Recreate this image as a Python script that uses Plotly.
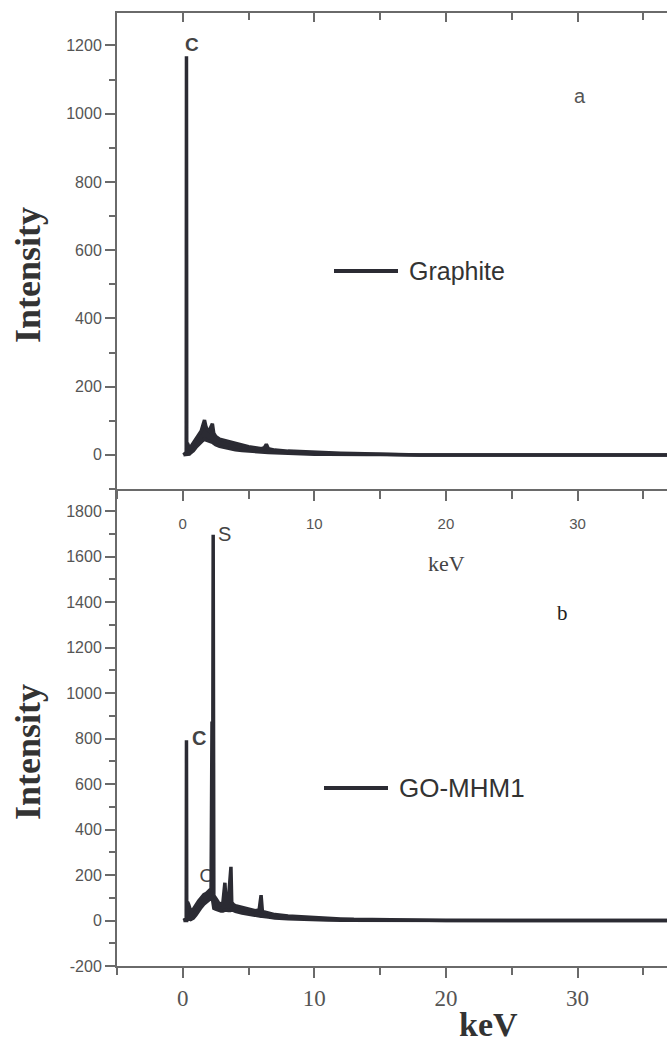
import plotly.graph_objects as go

# ---------------- data ----------------
# each spectrum is given as the upper and lower edge of its noisy trace
graphite_kev = [0.05, 0.2, 0.26, 0.28, 0.30, 0.4, 0.5, 0.6, 0.8, 1.0, 1.2, 1.4, 1.55, 1.65,
                1.75, 1.85, 2.0, 2.15, 2.25, 2.35, 2.5, 2.8, 3.0, 3.5, 4.0, 4.5, 5.0, 5.5, 6.0,
                6.2, 6.35, 6.5, 7.0, 8.0, 9.0, 10.0, 11.0, 12.0, 13.0, 14.0, 15.0, 16.0, 18.0,
                20.0, 36.8]
graphite_upper = [0, 8, 8, 1168, 28, 30, 20, 23, 34, 44, 56, 70, 90, 102,
                  84, 74, 70, 84, 91, 64, 54, 46, 44, 39, 33, 28, 24, 21, 18,
                  21, 31, 18, 14, 11, 9, 7, 6, 5, 4, 3, 2, 1, 0,
                  0, 0]
graphite_lower = [0, 0, 0, 0, 0, 2, 2, 6, 12, 22, 30, 37, 42, 47,
                  44, 42, 40, 38, 37, 34, 30, 25, 23, 19, 15, 13, 11, 9, 8,
                  8, 8, 7, 6, 4, 3, 2, 2, 1, 1, 1, 1, 0, 0,
                  0, 0]

gomhm_kev = [0.05, 0.2, 0.26, 0.28, 0.30, 0.36, 0.45, 0.6, 0.8, 1.0, 1.2, 1.4, 1.6, 1.8,
             2.0, 2.15, 2.22, 2.26, 2.31, 2.36, 2.5, 2.7, 2.9, 3.05, 3.2, 3.3, 3.45, 3.6,
             3.66, 3.72, 3.85, 4.0, 4.5, 5.0, 5.5, 5.8, 5.9, 5.95, 6.05, 6.5, 7.0, 8.0, 9.0,
             10.0, 11.0, 12.0, 13.0, 14.0, 15.0, 16.0, 18.0, 20.0, 36.8]
gomhm_upper = [0, 8, 8, 792, 25, 82, 70, 42, 50, 70, 86, 100, 114, 120,
               130, 140, 875, 130, 1696, 110, 98, 80, 70, 80, 166, 70, 80, 196,
               236, 80, 70, 65, 58, 50, 43, 46, 106, 111, 40, 33, 26, 20, 16,
               12, 9, 7, 5, 4, 2, 1, 0, 0, 0]
gomhm_lower = [0, 0, 0, 0, 0, 30, 8, 4, 10, 24, 44, 58, 72, 82,
               92, 98, 102, 92, 64, 54, 50, 45, 42, 42, 44, 48, 44, 44,
               48, 48, 44, 40, 33, 27, 22, 19, 19, 21, 18, 15, 11, 8, 5,
               3, 2, 1, 1, 0, 0, 0, 0, 0, 0]

x_ticks = [0, 10, 20, 30]
top_y_ticks = [0, 200, 400, 600, 800, 1000, 1200]
bot_y_ticks = [-200, 0, 200, 400, 600, 800, 1000, 1200, 1400, 1600, 1800]

# ---------------- layout helpers ----------------
W, H = 667, 1042
L, R, T, B = 117, 0, 13, 76
PW, PH = W - L - R, H - T - B


def fx(p):
    return (p - L) / PW


def fy(p):
    return (H - B - p) / PH


split = fy(489)
LINE = "#2b2b33"
AX = "#6a6a6a"
TXT = "#444444"

fig = go.Figure()

# label partly hidden behind the spectrum (drawn first)
fig.add_trace(go.Scatter(x=[1.83], y=[189], mode="text", text=["O"],
                         textfont=dict(family="Arial, Liberation Sans", size=19, color=TXT),
                         xaxis="x", yaxis="y", showlegend=False, hoverinfo="skip"))


def band(kev, lower, upper, xa, ya, name):
    fig.add_trace(go.Scatter(x=kev, y=lower, mode="lines", line=dict(color=LINE, width=3.5),
                             xaxis=xa, yaxis=ya, showlegend=False, hoverinfo="skip"))
    fig.add_trace(go.Scatter(x=kev, y=upper, mode="lines", line=dict(color=LINE, width=3.5),
                             fill="tonexty", fillcolor=LINE, xaxis=xa, yaxis=ya,
                             showlegend=False, name=name))


band(graphite_kev, graphite_lower, graphite_upper, "x2", "y2", "Graphite")
band(gomhm_kev, gomhm_lower, gomhm_upper, "x", "y", "GO-MHM1")

# invisible trace so the top mirror axis is drawn
fig.add_trace(go.Scatter(x=[0], y=[0], mode="markers", marker=dict(opacity=0),
                         xaxis="x3", yaxis="y2", showlegend=False, hoverinfo="skip"))

xr = [-5, 36.8]
common_axis = dict(showline=True, linecolor=AX, linewidth=2, showgrid=False, zeroline=False,
                   ticks="outside", ticklen=10, tickwidth=2, tickcolor=AX)
sans_ticks = dict(family="Arial, Liberation Sans", size=15, color="#555555")
ytickfont = dict(family="Arial, Liberation Sans", size=16, color="#555555")

fig.update_layout(
    width=W, height=H, margin=dict(l=L, r=R, t=T, b=B),
    paper_bgcolor="white", plot_bgcolor="white", showlegend=False,
    xaxis=dict(domain=[0, 1], anchor="y", range=xr, tickvals=x_ticks,
               tickfont=dict(family="Liberation Serif, Times New Roman", size=23, color="#555555"),
               minor=dict(dtick=5, tick0=0, ticks="outside", ticklen=7, tickwidth=2, tickcolor=AX),
               **common_axis),
    yaxis=dict(domain=[0, split], anchor="x", range=[-200, 1897], tickvals=bot_y_ticks,
               ticktext=[str(v) for v in bot_y_ticks], tickfont=ytickfont,
               minor=dict(dtick=100, tick0=0, ticks="outside", ticklen=6, tickwidth=2, tickcolor=AX),
               **common_axis),
    xaxis2=dict(domain=[0, 1], anchor="y2", range=xr, tickvals=x_ticks, tickfont=sans_ticks,
                ticklabelstandoff=10,
                minor=dict(dtick=5, tick0=0, ticks="outside", ticklen=8, tickwidth=2, tickcolor=AX),
                **common_axis),
    yaxis2=dict(domain=[split, 1], anchor="x2", range=[-100, 1295], tickvals=top_y_ticks,
                tickfont=ytickfont,
                minor=dict(dtick=100, tick0=0, ticks="outside", ticklen=6, tickwidth=2, tickcolor=AX),
                **common_axis),
    xaxis3=dict(overlaying="x2", anchor="y2", side="top", range=xr, tickvals=x_ticks,
                showticklabels=False, showline=True, linecolor=AX, linewidth=2,
                showgrid=False, zeroline=False, ticks="inside", ticklen=9, tickwidth=2,
                tickcolor=AX,
                minor=dict(dtick=5, tick0=0, ticks="inside", ticklen=7, tickwidth=2, tickcolor=AX)),
)


def ann(text, xp, yp, size, family="Arial, Liberation Sans", color=TXT, angle=0, bold=False):
    if bold:
        text = "<b>" + text + "</b>"
    fig.add_annotation(text=text, x=fx(xp), y=fy(yp), xref="paper", yref="paper",
                       xanchor="center", yanchor="middle", showarrow=False, textangle=angle,
                       font=dict(family=family, size=size, color=color))


SERIF = "Liberation Serif, Times New Roman"

# axis titles
ann("Intensity", 28, 275, 36, family=SERIF, color="#333333", angle=-90, bold=True)
ann("Intensity", 28, 752, 36, family=SERIF, color="#333333", angle=-90, bold=True)
ann("keV", 446, 563, 22, family=SERIF, color="#444444")
ann("keV", 488, 1024, 34, family=SERIF, color="#333333", bold=True)

# peak / panel labels
ann("C", 192, 45, 19, bold=True)
ann("a", 580, 96, 20, color="#555555")
ann("S", 224, 534, 20)
ann("b", 562, 613, 21, family=SERIF, color="#222222")
ann("C", 199, 738, 20, bold=True)

# legend-like labels
fig.add_shape(type="line", xref="paper", yref="paper", x0=fx(334), x1=fx(398),
              y0=fy(271), y1=fy(271), line=dict(color=LINE, width=4))
fig.add_annotation(text="Graphite", x=fx(407), y=fy(271), xref="paper", yref="paper",
                   xanchor="left", yanchor="middle", showarrow=False,
                   font=dict(family="Arial, Liberation Sans", size=25, color="#333333"))
fig.add_shape(type="line", xref="paper", yref="paper", x0=fx(324), x1=fx(388),
              y0=fy(788), y1=fy(788), line=dict(color=LINE, width=4))
fig.add_annotation(text="GO-MHM1", x=fx(397), y=fy(788), xref="paper", yref="paper",
                   xanchor="left", yanchor="middle", showarrow=False,
                   font=dict(family="Arial, Liberation Sans", size=26, color="#333333"))

fig.write_html("out.html")
